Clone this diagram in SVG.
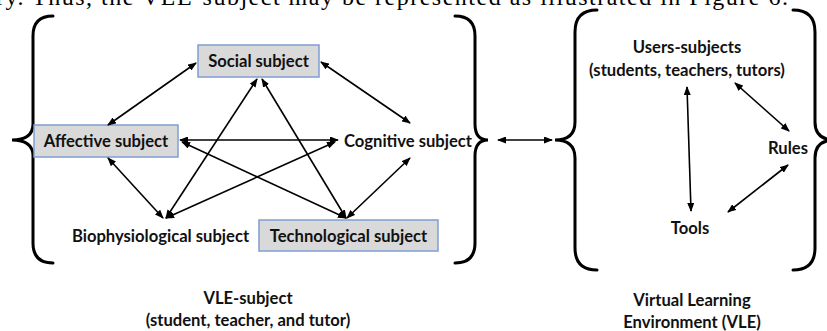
<svg xmlns="http://www.w3.org/2000/svg" width="827" height="331" viewBox="0 0 827 331">
<style>
.lbl{font-family:Lato,"Open Sans","Liberation Sans",sans-serif;font-weight:bold;font-size:16.6px;fill:#111;text-anchor:middle}
.box{fill:#d9d9d9;stroke:#7f9fd3;stroke-width:1.5}
.brace{fill:none;stroke:#000;stroke-width:3;stroke-linecap:round}
.conn line{stroke:#000;stroke-width:1.6;marker-start:url(#ah);marker-end:url(#ah)}
.top{font-family:"Liberation Serif",serif;font-size:24px;fill:#000}
</style>
<defs>
<marker id="ah" markerUnits="userSpaceOnUse" markerWidth="9" markerHeight="7" refX="8" refY="3.5" orient="auto-start-reverse">
<path d="M0,0 L9,3.5 L0,7 z" fill="#000"/>
</marker>
</defs>
<rect width="827" height="331" fill="#fff"/>
<text class="top" x="-4" y="5" textLength="792" lengthAdjust="spacing">ry. Thus, the VLE-subject may be represented as illustrated in Figure 6.</text>

<g id="braces">
<path class="brace" d="M53,16 Q33,16 33,36 L33,124 Q33,140 12,140 Q33,140 33,156 L33,243 Q33,263 53,263"/>
<path class="brace" d="M455,16 Q475,16 475,36 L475,124 Q475,140 488,140 Q475,140 475,156 L475,243 Q475,263 455,263"/>
<path class="brace" d="M597,10 Q575,10 575,32 L575,122 Q575,140 555,140 Q575,140 575,158 L575,248 Q575,270 597,270"/>
<path class="brace" d="M793,10 Q815,10 815,32 L815,122 Q815,140 835,140 Q815,140 815,158 L815,248 Q815,270 793,270"/>
</g>

<g id="social"><rect class="box" x="198" y="45" width="121" height="32"/><text class="lbl" x="258.5" y="67">Social subject</text></g>
<g id="affective"><rect class="box" x="34" y="125" width="144" height="32"/><text class="lbl" x="106" y="147">Affective subject</text></g>
<g id="cognitive"><text class="lbl" x="408" y="147">Cognitive subject</text></g>
<g id="biophysiological"><text class="lbl" x="160.5" y="242">Biophysiological subject</text></g>
<g id="technological"><rect class="box" x="259" y="220" width="179" height="31"/><text class="lbl" x="348.5" y="242">Technological subject</text></g>
<g id="vle-subject"><text class="lbl" x="248" y="304">VLE-subject</text><text class="lbl" x="248" y="326">(student, teacher, and tutor)</text></g>

<g id="users"><text class="lbl" x="687" y="53">Users-subjects</text><text class="lbl" x="687" y="76">(students, teachers, tutors)</text></g>
<g id="rules"><text class="lbl" x="788" y="154">Rules</text></g>
<g id="tools"><text class="lbl" x="690" y="234">Tools</text></g>
<g id="vle"><text class="lbl" x="692" y="306">Virtual Learning</text><text class="lbl" x="692" y="328">Environment (VLE)</text></g>

<g id="connectors" class="conn">
<line x1="108" y1="125" x2="196" y2="63"/>
<line x1="321" y1="62" x2="410" y2="123"/>
<line x1="180" y1="140" x2="338" y2="140"/>
<line x1="257" y1="79" x2="166" y2="218"/>
<line x1="262" y1="79" x2="346" y2="218"/>
<line x1="182" y1="142" x2="346" y2="218"/>
<line x1="335" y1="142" x2="166" y2="218"/>
<line x1="108" y1="158" x2="163" y2="218"/>
<line x1="410" y1="158" x2="347" y2="218"/>
<line x1="687" y1="87" x2="691" y2="211"/>
<line x1="735" y1="83" x2="789" y2="131"/>
<line x1="788" y1="165" x2="728" y2="212"/>
<line x1="498" y1="140" x2="552" y2="140"/>
</g>
</svg>
